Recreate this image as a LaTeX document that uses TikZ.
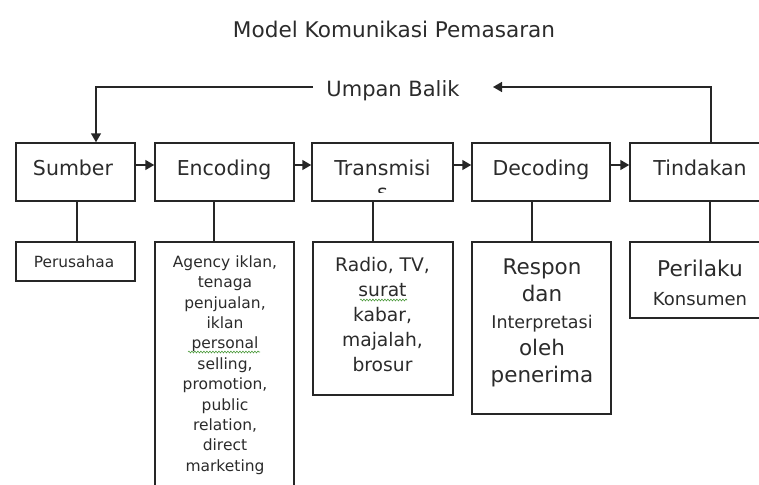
\documentclass[tikz,border=0pt]{standalone}
\usepackage{fontspec}
\setmainfont{DejaVu Sans}
\usetikzlibrary{arrows.meta,decorations.pathmorphing}
\definecolor{ink}{HTML}{262626}
\definecolor{txt}{HTML}{2B2B2B}
\definecolor{squig}{HTML}{4C9A3C}
\begin{document}
\begin{tikzpicture}[x=1pt,y=-1pt,
  box/.style={draw=ink,line width=1.5pt,rectangle,inner sep=0pt},
  lbl/.style={text=txt,inner sep=0pt,anchor=base,font=\fontsize{20.5}{24}\selectfont},
  sub/.style={text=txt,inner sep=0pt,align=center},
  arr/.style={draw=ink,line width=1.5pt,-{Triangle[length=9pt,width=10pt]}},
  ln/.style={draw=ink,line width=1.5pt},
  wavy/.style={draw=squig,line width=0.6pt,decorate,decoration={snake,amplitude=0.9pt,segment length=3pt}}]
\useasboundingbox (0,0) rectangle (759,484);
\begin{scope}
\clip (0,0) rectangle (759,484);
% title
\node[lbl,font=\fontsize{21.6}{26}\selectfont] (title) at (394,38) {Model Komunikasi Pemasaran};
% top boxes
\node[box,minimum width=119pt,minimum height=58pt] (sumber) at (75.5,172) {};
\node[box,minimum width=139pt,minimum height=58pt] (enc) at (224.5,172) {};
\node[box,minimum width=141pt,minimum height=58pt] (trans) at (382.5,172) {};
\node[box,minimum width=138pt,minimum height=58pt] (dec) at (541,172) {};
\node[box,minimum width=140pt,minimum height=58pt] (tind) at (700,172) {};
\node[lbl] (sumberT) at (73,175) {Sumber};
\node[lbl] (encT) at (224,175) {Encoding};
\node[lbl] (transT) at (382.5,175) {Transmisi};
\node[lbl] (decT) at (541,175) {Decoding};
\node[lbl] (tindT) at (700,175) {Tindakan};
\begin{scope}
\clip (313,144) rectangle (452,192);
\node[lbl] (transS) at (382.5,199) {s};
\end{scope}
% arrows between boxes
\draw[arr] (sumber.east |- 0,165) -- (enc.west |- 0,165);
\draw[arr] (enc.east |- 0,165) -- (trans.west |- 0,165);
\draw[arr] (trans.east |- 0,165) -- (dec.west |- 0,165);
\draw[arr] (dec.east |- 0,165) -- (tind.west |- 0,165);
% feedback
\node[lbl,font=\fontsize{21}{25}\selectfont] (ub) at (393,96) {Umpan Balik};
\coordinate (ubL) at (313,87);
\coordinate (ubR) at (493,87);
\draw[arr] (tind.north -| 711,0) |- (ubR);
\draw[arr] (ubL) -| (sumber.north -| 96,0);
% sub boxes
\node[box,minimum width=119pt,minimum height=39pt] (perus) at (75.5,261.5) {};
\node[box,minimum width=139pt,minimum height=258pt] (encsub) at (224.5,371) {};
\node[box,minimum width=140pt,minimum height=153pt] (transsub) at (383,318.5) {};
\node[box,minimum width=139pt,minimum height=172pt] (decsub) at (541.5,328) {};
\node[box,minimum width=140pt,minimum height=76pt] (tindsub) at (700,280) {};
% vertical connectors
\draw[ln] (sumber.south -| 77,0) -- (perus.north -| 77,0);
\draw[ln] (enc.south -| 214,0) -- (encsub.north -| 214,0);
\draw[ln] (trans.south -| 373,0) -- (transsub.north -| 373,0);
\draw[ln] (dec.south -| 532,0) -- (decsub.north -| 532,0);
\draw[ln] (tind.south -| 710,0) -- (tindsub.north -| 710,0);
% sub texts
\node[sub,font=\fontsize{15.4}{20}\selectfont] (perusT) at (74,262) {Perusahaa};
\node[sub,font=\fontsize{15.5}{20.4}\selectfont] (encsubT) at (225,365) {Agency iklan,\\tenaga\\penjualan,\\iklan\\personal\\selling,\\promotion,\\public\\relation,\\direct\\marketing};
\node[sub,font=\fontsize{18.7}{25}\selectfont] (transsubT) at (382.5,315) {Radio, TV,\\surat\\kabar,\\majalah,\\brosur};
\node[sub,font=\fontsize{21.5}{27}\selectfont] (decsubT) at (542,323) {Respon\\dan\\{\fontsize{17.5}{27}\selectfont Interpretasi}\\oleh\\penerima};
\node[sub,font=\fontsize{21.7}{29.5}\selectfont] (tindsubT) at (700,283) {Perilaku\\{\fontsize{18}{29.5}\selectfont Konsumen}};
% spell-check squiggles
\draw[wavy] (188,352) -- (260,352);
\draw[wavy] (360,300) -- (407,300);
\end{scope}
\end{tikzpicture}
\end{document}
